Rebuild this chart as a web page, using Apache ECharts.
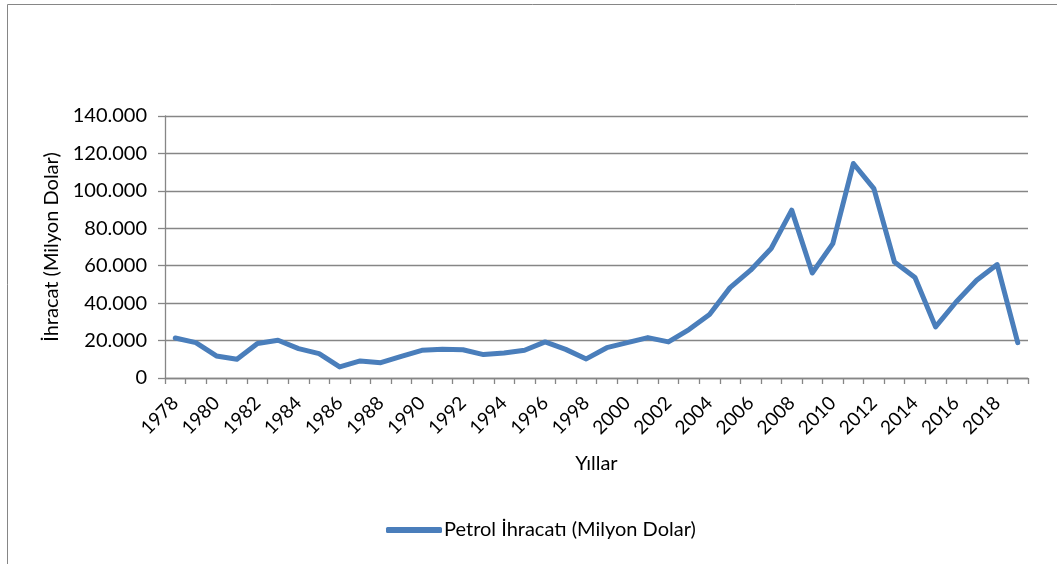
<!DOCTYPE html>
<html>
<head>
<meta charset="utf-8">
<script src="https://cdn.jsdelivr.net/npm/echarts@6/dist/echarts.min.js"></script>
<style>
  html, body { margin: 0; padding: 0; background: #fff; }
  #chart { width: 1057px; height: 564px; }
</style>
</head>
<body>
<div id="chart"></div>
<script>
var years = [];
for (var y = 1978; y <= 2019; y++) { years.push(String(y)); }

// Petrol ihracatı (milyon dolar)
var petrolExport = [
    21400, 18900, 11800, 10000, 18400, 20200, 15700, 13000, 5900, 9100,
    8200, 11600, 14800, 15300, 15100, 12500, 13400, 14800, 19300, 15300,
    10200, 16200, 18900, 21600, 19300, 25900, 33900, 48300, 57600, 69200,
    89700, 56100, 71800, 114600, 101200, 62000, 53700, 27300, 40600, 52200,
    60600, 18900
];

var seriesName = 'Petrol İhracatı (Milyon Dolar)';
var fontFamily = 'Lato, "Noto Sans", sans-serif';

function trNumber(v){
    // binlik ayırıcı nokta
    return String(v).replace(/\B(?=(\d{3})+(?!\d))/g, '.');
}

var myChart = echarts.init(document.getElementById('chart'));
var option = {
    animation: false,
    textStyle: { fontFamily: fontFamily },
    graphic: [{
        type: 'rect',
        shape: { x: 7.5, y: 4.5, width: 1200, height: 700 },
        style: { fill: 'none', stroke: '#868686', lineWidth: 1 },
        silent: true
    }],
    grid: {
        left: 165,
        right: 29,
        top: 116,
        bottom: 186,
        outerBoundsMode: 'none'
    },
    legend: {
        bottom: 19,
        left: 381,
        itemWidth: 56,
        itemHeight: 6,
        itemGap: 4,
        icon: 'roundRect',
        textStyle: { fontFamily: fontFamily, fontSize: 20, color: '#000', padding: [0, 0, 0, -3] },
        data: [seriesName]
    },
    xAxis: {
        type: 'category',
        data: years,
        boundaryGap: true,
        name: 'Yıllar',
        nameLocation: 'middle',
        nameGap: 76,
        nameTextStyle: { fontFamily: fontFamily, fontSize: 20, color: '#000' },
        axisLine: { lineStyle: { color: '#868686', width: 1.3 } },
        axisTick: { show: true, length: 6, interval: 0, lineStyle: { color: '#868686', width: 1.3 } },
        axisLabel: {
            interval: 1,
            rotate: 45,
            margin: 22,
            fontSize: 19,
            color: '#000',
            fontFamily: fontFamily
        }
    },
    yAxis: {
        type: 'value',
        min: 0,
        max: 140000,
        interval: 20000,
        name: 'İhracat (Milyon Dolar)',
        nameLocation: 'middle',
        nameGap: 97,
        nameTextStyle: { fontFamily: fontFamily, fontSize: 20, color: '#000' },
        axisLine: { show: true, lineStyle: { color: '#868686', width: 1.3 } },
        axisTick: { show: true, length: 7, lineStyle: { color: '#868686', width: 1.3 } },
        splitLine: { show: true, lineStyle: { color: '#868686', width: 1.3 } },
        axisLabel: {
            margin: 18,
            fontSize: 20,
            color: '#000',
            fontFamily: fontFamily,
            formatter: function(v){ return trNumber(v); }
        }
    },
    series: [{
        name: seriesName,
        type: 'line',
        data: petrolExport,
        symbol: 'none',
        lineStyle: { color: '#4A7EBB', width: 5, join: 'round', cap: 'round' },
        itemStyle: { color: '#4A7EBB' }
    }]
};
myChart.setOption(option);
</script>
</body>
</html>
